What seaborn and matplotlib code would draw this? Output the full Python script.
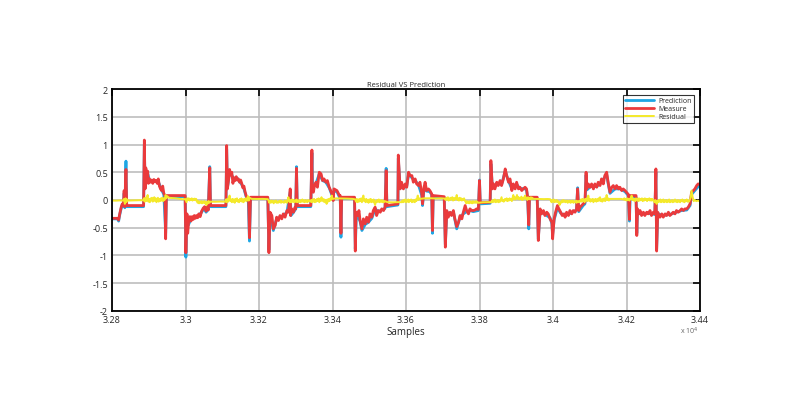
import matplotlib
matplotlib.use("Agg")
import matplotlib.pyplot as plt
import pandas as pd
import seaborn as sns

# sample position (x 10^4) and value pairs
measure_pts = [
    (3.2800, -0.33), (3.2815, -0.33), (3.2818, -0.36), (3.2821, -0.25), (3.2825, -0.13),
    (3.2828, -0.07), (3.2831, -0.10), (3.2833, 0.17), (3.2835, -0.12), (3.2838, 0.55),
    (3.2840, -0.10), (3.2886, -0.10), (3.2888, 1.08), (3.2890, 0.20), (3.2892, 0.58),
    (3.2894, 0.45), (3.2897, 0.52), (3.2899, 0.30), (3.2902, 0.38), (3.2905, 0.32),
    (3.2908, 0.36), (3.2911, 0.30), (3.2914, 0.37), (3.2917, 0.33), (3.2920, 0.35),
    (3.2923, 0.30), (3.2926, 0.38), (3.2929, 0.25), (3.2932, 0.20), (3.2935, 0.17),
    (3.2938, 0.25), (3.2941, 0.12), (3.2944, 0.08), (3.2946, -0.70), (3.2948, 0.08),
    (3.2999, 0.08), (3.3001, -0.95), (3.3004, -0.25), (3.3006, -0.60), (3.3009, -0.35),
    (3.3012, -0.30), (3.3015, -0.38), (3.3018, -0.30), (3.3021, -0.35), (3.3024, -0.28),
    (3.3027, -0.33), (3.3030, -0.28), (3.3033, -0.32), (3.3036, -0.25), (3.3040, -0.30),
    (3.3044, -0.20), (3.3048, -0.15), (3.3052, -0.12), (3.3056, -0.20), (3.3059, -0.13),
    (3.3062, -0.18), (3.3066, 0.58), (3.3068, -0.10), (3.3110, -0.10), (3.3112, 0.98),
    (3.3114, 0.20), (3.3117, 0.35), (3.3120, 0.55), (3.3123, 0.45), (3.3126, 0.50),
    (3.3129, 0.30), (3.3132, 0.40), (3.3135, 0.35), (3.3138, 0.42), (3.3141, 0.36),
    (3.3144, 0.38), (3.3147, 0.32), (3.3150, 0.36), (3.3153, 0.30), (3.3156, 0.22),
    (3.3159, 0.25), (3.3162, 0.15), (3.3165, 0.08), (3.3168, 0.02), (3.3172, -0.02),
    (3.3174, -0.68), (3.3177, 0.05), (3.3224, 0.05), (3.3227, -0.95), (3.3230, -0.22),
    (3.3235, -0.28), (3.3239, -0.52), (3.3244, -0.46), (3.3248, -0.31), (3.3253, -0.37),
    (3.3257, -0.28), (3.3262, -0.34), (3.3266, -0.25), (3.3271, -0.31), (3.3276, -0.19),
    (3.3280, -0.22), (3.3285, 0.20), (3.3286, -0.28), (3.3289, -0.16), (3.3294, -0.22),
    (3.3298, -0.13), (3.3300, -0.16), (3.3302, 0.57), (3.3304, -0.10), (3.3341, -0.10),
    (3.3344, 0.90), (3.3345, 0.20), (3.3348, 0.14), (3.3351, 0.26), (3.3355, 0.32),
    (3.3359, 0.23), (3.3364, 0.50), (3.3369, 0.47), (3.3373, 0.35), (3.3377, 0.38),
    (3.3382, 0.32), (3.3386, 0.35), (3.3391, 0.23), (3.3395, 0.17), (3.3400, 0.08),
    (3.3402, -0.01), (3.3404, 0.20), (3.3412, 0.17), (3.3419, 0.08), (3.3421, 0.08),
    (3.3423, -0.60), (3.3425, 0.05), (3.3460, 0.05), (3.3462, -0.92), (3.3464, -0.22),
    (3.3468, -0.28), (3.3472, -0.19), (3.3475, -0.37), (3.3480, -0.52), (3.3484, -0.34),
    (3.3489, -0.43), (3.3493, -0.31), (3.3498, -0.40), (3.3502, -0.25), (3.3507, -0.31),
    (3.3511, -0.19), (3.3516, -0.13), (3.3520, -0.28), (3.3525, -0.19), (3.3530, -0.22),
    (3.3534, -0.16), (3.3539, -0.19), (3.3543, -0.13), (3.3546, 0.53), (3.3548, -0.10),
    (3.3578, -0.07), (3.3579, 0.81), (3.3584, 0.20), (3.3588, 0.32), (3.3593, 0.20),
    (3.3598, 0.29), (3.3602, 0.23), (3.3607, 0.50), (3.3611, 0.44), (3.3616, 0.44),
    (3.3620, 0.32), (3.3625, 0.38), (3.3629, 0.29), (3.3634, 0.26), (3.3638, 0.32),
    (3.3643, 0.11), (3.3645, -0.07), (3.3649, 0.23), (3.3652, 0.32), (3.3656, 0.17),
    (3.3661, 0.20), (3.3665, 0.17), (3.3670, 0.11), (3.3672, -0.55), (3.3674, 0.08),
    (3.3704, 0.06), (3.3707, -0.85), (3.3711, -0.19), (3.3715, -0.31), (3.3720, -0.22),
    (3.3724, -0.28), (3.3729, -0.19), (3.3733, -0.34), (3.3738, -0.48), (3.3743, -0.40),
    (3.3747, -0.28), (3.3752, -0.34), (3.3756, -0.22), (3.3761, -0.10), (3.3765, -0.19),
    (3.3770, -0.25), (3.3774, -0.16), (3.3779, -0.19), (3.3783, -0.19), (3.3788, -0.18),
    (3.3792, -0.16), (3.3797, -0.17), (3.3800, 0.35), (3.3802, -0.05), (3.3829, -0.04),
    (3.3831, 0.71), (3.3835, 0.20), (3.3838, 0.29), (3.3842, 0.20), (3.3847, 0.32),
    (3.3851, 0.26), (3.3856, 0.35), (3.3860, 0.26), (3.3865, 0.38), (3.3870, 0.56),
    (3.3874, 0.44), (3.3879, 0.32), (3.3883, 0.38), (3.3888, 0.17), (3.3892, 0.29),
    (3.3897, 0.20), (3.3901, 0.32), (3.3906, 0.20), (3.3910, 0.23), (3.3915, 0.17),
    (3.3919, 0.20), (3.3924, 0.23), (3.3928, 0.20), (3.3931, 0.05), (3.3934, -0.45),
    (3.3936, 0.05), (3.3957, 0.05), (3.3960, -0.73), (3.3965, -0.16), (3.3969, -0.25),
    (3.3974, -0.19), (3.3978, -0.28), (3.3983, -0.22), (3.3987, -0.25), (3.3992, -0.34),
    (3.3997, -0.40), (3.3999, -0.70), (3.4003, -0.34), (3.4007, -0.22), (3.4012, -0.10),
    (3.4016, -0.16), (3.4021, -0.22), (3.4025, -0.28), (3.4030, -0.25), (3.4033, -0.31),
    (3.4037, -0.22), (3.4042, -0.28), (3.4046, -0.19), (3.4051, -0.25), (3.4055, -0.19),
    (3.4060, -0.22), (3.4064, -0.16), (3.4067, 0.20), (3.4070, -0.19), (3.4073, -0.13),
    (3.4078, -0.10), (3.4082, -0.07), (3.4087, -0.04), (3.4090, 0.50), (3.4092, 0.20),
    (3.4096, 0.29), (3.4101, 0.23), (3.4105, 0.29), (3.4110, 0.20), (3.4114, 0.29),
    (3.4119, 0.23), (3.4123, 0.32), (3.4128, 0.26), (3.4132, 0.38), (3.4137, 0.29),
    (3.4141, 0.44), (3.4146, 0.50), (3.4150, 0.32), (3.4155, 0.14), (3.4160, 0.23),
    (3.4164, 0.26), (3.4169, 0.20), (3.4173, 0.26), (3.4178, 0.20), (3.4182, 0.23),
    (3.4187, 0.17), (3.4191, 0.20), (3.4196, 0.17), (3.4200, 0.14), (3.4205, 0.10),
    (3.4208, -0.35), (3.4209, 0.08), (3.4226, 0.08), (3.4228, -0.64), (3.4230, -0.16),
    (3.4234, -0.25), (3.4237, -0.19), (3.4241, -0.28), (3.4246, -0.22), (3.4250, -0.28),
    (3.4255, -0.22), (3.4259, -0.25), (3.4264, -0.19), (3.4268, -0.28), (3.4273, -0.22),
    (3.4277, -0.25), (3.4280, 0.56), (3.4282, -0.92), (3.4285, -0.22), (3.4288, -0.28),
    (3.4291, -0.31), (3.4296, -0.25), (3.4300, -0.31), (3.4305, -0.25), (3.4309, -0.28),
    (3.4314, -0.22), (3.4318, -0.28), (3.4323, -0.25), (3.4327, -0.22), (3.4332, -0.25),
    (3.4336, -0.19), (3.4341, -0.22), (3.4346, -0.19), (3.4350, -0.16), (3.4355, -0.19),
    (3.4359, -0.16), (3.4364, -0.16), (3.4368, -0.13), (3.4373, -0.07), (3.4377, 0.14),
    (3.4382, 0.17), (3.4386, 0.20), (3.4391, 0.26), (3.4395, 0.29), (3.4400, 0.28),
]

prediction_pts = [
    (3.2800, -0.34), (3.2815, -0.34), (3.2818, -0.38), (3.2821, -0.27), (3.2825, -0.15),
    (3.2828, -0.08), (3.2831, -0.12), (3.2833, 0.12), (3.2835, -0.14), (3.2838, 0.70),
    (3.2840, -0.12), (3.2886, -0.12), (3.2888, 1.00), (3.2890, 0.22), (3.2893, 0.52),
    (3.2897, 0.48), (3.2902, 0.35), (3.2910, 0.33), (3.2920, 0.34), (3.2928, 0.30),
    (3.2935, 0.18), (3.2941, 0.10), (3.2946, -0.60), (3.2948, 0.06), (3.2999, 0.06),
    (3.3001, -1.03), (3.3004, -0.28), (3.3008, -0.45), (3.3015, -0.34), (3.3025, -0.32),
    (3.3035, -0.28), (3.3044, -0.22), (3.3050, -0.15), (3.3056, -0.22), (3.3062, -0.17),
    (3.3066, 0.60), (3.3068, -0.12), (3.3110, -0.12), (3.3112, 0.92), (3.3114, 0.22),
    (3.3120, 0.50), (3.3126, 0.45), (3.3132, 0.37), (3.3140, 0.40), (3.3147, 0.33),
    (3.3153, 0.28), (3.3159, 0.20), (3.3165, 0.06), (3.3171, -0.04), (3.3174, -0.74),
    (3.3177, 0.03), (3.3224, 0.03), (3.3227, -0.90), (3.3230, -0.25), (3.3239, -0.55),
    (3.3248, -0.34), (3.3257, -0.31), (3.3266, -0.28), (3.3276, -0.22), (3.3285, 0.15),
    (3.3287, -0.28), (3.3294, -0.22), (3.3300, -0.16), (3.3302, 0.60), (3.3304, -0.12),
    (3.3341, -0.12), (3.3344, 0.85), (3.3346, 0.20), (3.3355, 0.30), (3.3364, 0.47),
    (3.3373, 0.35), (3.3382, 0.32), (3.3391, 0.22), (3.3400, 0.06), (3.3404, 0.16),
    (3.3412, 0.15), (3.3419, 0.05), (3.3421, 0.05), (3.3423, -0.67), (3.3425, 0.03),
    (3.3460, 0.03), (3.3462, -0.88), (3.3465, -0.25), (3.3475, -0.38), (3.3480, -0.55),
    (3.3489, -0.44), (3.3498, -0.40), (3.3507, -0.33), (3.3516, -0.16), (3.3525, -0.21),
    (3.3534, -0.18), (3.3543, -0.15), (3.3546, 0.57), (3.3548, -0.12), (3.3578, -0.09),
    (3.3579, 0.75), (3.3584, 0.22), (3.3593, 0.22), (3.3602, 0.25), (3.3607, 0.47),
    (3.3616, 0.40), (3.3625, 0.35), (3.3634, 0.27), (3.3643, 0.08), (3.3645, -0.10),
    (3.3649, 0.20), (3.3656, 0.16), (3.3665, 0.15), (3.3670, 0.09), (3.3672, -0.60),
    (3.3674, 0.05), (3.3704, 0.04), (3.3707, -0.80), (3.3711, -0.22), (3.3720, -0.25),
    (3.3729, -0.22), (3.3738, -0.52), (3.3747, -0.31), (3.3756, -0.25), (3.3765, -0.21),
    (3.3774, -0.19), (3.3783, -0.21), (3.3797, -0.19), (3.3800, 0.36), (3.3802, -0.07),
    (3.3829, -0.06), (3.3831, 0.65), (3.3835, 0.22), (3.3847, 0.30), (3.3860, 0.28),
    (3.3870, 0.52), (3.3879, 0.34), (3.3888, 0.20), (3.3901, 0.28), (3.3910, 0.21),
    (3.3924, 0.20), (3.3928, 0.18), (3.3931, 0.03), (3.3934, -0.52), (3.3936, 0.03),
    (3.3957, 0.03), (3.3960, -0.70), (3.3965, -0.19), (3.3978, -0.26), (3.3992, -0.32),
    (3.3997, -0.43), (3.3999, -0.62), (3.4003, -0.36), (3.4012, -0.14), (3.4021, -0.24),
    (3.4030, -0.27), (3.4042, -0.26), (3.4055, -0.21), (3.4064, -0.18), (3.4067, 0.22),
    (3.4070, -0.21), (3.4082, -0.10), (3.4087, -0.07), (3.4090, 0.45), (3.4092, 0.18),
    (3.4105, 0.26), (3.4119, 0.24), (3.4132, 0.33), (3.4146, 0.46), (3.4150, 0.30),
    (3.4155, 0.12), (3.4169, 0.20), (3.4182, 0.20), (3.4196, 0.15), (3.4205, 0.08),
    (3.4208, -0.38), (3.4210, 0.05), (3.4226, 0.05), (3.4228, -0.60), (3.4230, -0.19),
    (3.4241, -0.26), (3.4255, -0.24), (3.4268, -0.25), (3.4277, -0.26), (3.4280, 0.50),
    (3.4282, -0.88), (3.4285, -0.24), (3.4296, -0.28), (3.4309, -0.27), (3.4323, -0.25),
    (3.4336, -0.22), (3.4350, -0.19), (3.4364, -0.18), (3.4373, -0.10), (3.4377, 0.10),
    (3.4386, 0.17), (3.4395, 0.24), (3.4400, 0.27),
]

residual_pts = [
    (3.2800, -0.01), (3.2810, -0.012), (3.2820, -0.008), (3.2830, -0.01), (3.2833, 0.02),
    (3.2835, -0.07), (3.2837, 0.03), (3.2839, -0.04), (3.2841, 0.01), (3.2844, -0.01),
    (3.2860, -0.006), (3.2875, -0.004), (3.2885, -0.005), (3.2887, 0.03), (3.2889, -0.03),
    (3.2891, 0.04), (3.2893, -0.02), (3.2895, 0.05), (3.2897, 0.09), (3.2899, -0.03),
    (3.2901, 0.02), (3.2903, -0.04), (3.2905, 0.03), (3.2907, -0.01), (3.2909, 0.04),
    (3.2911, -0.03), (3.2913, 0.02), (3.2915, 0.05), (3.2917, -0.02), (3.2919, 0.03),
    (3.2921, -0.04), (3.2923, 0.01), (3.2925, 0.04), (3.2927, -0.03), (3.2929, 0.02),
    (3.2931, -0.02), (3.2933, 0.03), (3.2935, -0.01), (3.2937, 0.04), (3.2939, -0.02),
    (3.2941, 0.03), (3.2943, 0.0), (3.2946, 0.09), (3.2948, 0.03), (3.2950, 0.07),
    (3.2955, 0.04), (3.2965, 0.035), (3.2975, 0.03), (3.2985, 0.02), (3.2995, 0.01),
    (3.2999, 0.02), (3.3001, -0.01), (3.3003, -0.04), (3.3005, 0.03), (3.3007, 0.0),
    (3.3009, 0.03), (3.3011, -0.01), (3.3013, 0.02), (3.3015, 0.0), (3.3017, 0.03),
    (3.3019, -0.01), (3.3021, 0.02), (3.3023, 0.0), (3.3025, 0.025), (3.3027, -0.005),
    (3.3029, 0.02), (3.3031, -0.02), (3.3033, -0.05), (3.3035, -0.02), (3.3037, -0.06),
    (3.3039, -0.03), (3.3041, -0.05), (3.3043, -0.02), (3.3045, -0.06), (3.3047, -0.03),
    (3.3049, -0.05), (3.3051, -0.02), (3.3053, -0.06), (3.3055, -0.04), (3.3057, -0.09),
    (3.3059, -0.03), (3.3061, -0.06), (3.3063, -0.02), (3.3065, -0.05), (3.3067, -0.03),
    (3.3080, -0.032), (3.3095, -0.028), (3.3108, -0.03), (3.3110, 0.01), (3.3112, -0.04),
    (3.3114, 0.02), (3.3116, -0.03), (3.3118, 0.03), (3.3120, 0.08), (3.3122, -0.02),
    (3.3124, 0.01), (3.3126, -0.04), (3.3128, 0.02), (3.3130, -0.03), (3.3132, 0.01),
    (3.3134, -0.05), (3.3136, 0.02), (3.3138, -0.02), (3.3140, 0.03), (3.3142, -0.03),
    (3.3144, 0.0), (3.3146, -0.04), (3.3148, 0.02), (3.3150, -0.02), (3.3152, 0.03),
    (3.3154, -0.03), (3.3156, 0.01), (3.3158, -0.04), (3.3160, 0.02), (3.3162, -0.01),
    (3.3164, 0.03), (3.3166, -0.02), (3.3168, 0.02), (3.3170, 0.07), (3.3172, -0.01),
    (3.3174, 0.04), (3.3180, 0.02), (3.3195, 0.018), (3.3210, 0.02), (3.3224, 0.015),
    (3.3226, -0.01), (3.3228, -0.05), (3.3230, -0.02), (3.3232, -0.05), (3.3234, -0.01),
    (3.3236, -0.04), (3.3238, -0.02), (3.3240, -0.06), (3.3242, -0.02), (3.3244, -0.04),
    (3.3246, -0.01), (3.3248, -0.05), (3.3250, -0.03), (3.3252, -0.05), (3.3254, -0.02),
    (3.3256, -0.04), (3.3258, -0.01), (3.3260, -0.05), (3.3262, -0.02), (3.3264, -0.04),
    (3.3266, -0.03), (3.3268, -0.05), (3.3270, -0.01), (3.3272, -0.04), (3.3274, -0.02),
    (3.3276, -0.05), (3.3278, 0.0), (3.3280, 0.05), (3.3282, -0.02), (3.3284, -0.04),
    (3.3286, 0.0), (3.3288, -0.04), (3.3290, 0.01), (3.3292, -0.03), (3.3294, 0.0),
    (3.3296, -0.04), (3.3298, -0.01), (3.3300, -0.03), (3.3302, 0.01), (3.3304, -0.04),
    (3.3306, -0.01), (3.3308, -0.03), (3.3310, 0.0), (3.3312, -0.04), (3.3314, -0.01),
    (3.3316, -0.03), (3.3318, 0.01), (3.3320, -0.03), (3.3322, -0.01), (3.3324, -0.04),
    (3.3326, 0.0), (3.3328, -0.03), (3.3330, -0.01), (3.3332, -0.04), (3.3334, 0.0),
    (3.3336, -0.02), (3.3338, -0.01), (3.3340, -0.03), (3.3342, 0.0), (3.3344, -0.04),
    (3.3346, 0.01), (3.3348, -0.03), (3.3350, 0.02), (3.3352, -0.04), (3.3354, 0.0),
    (3.3356, -0.03), (3.3358, 0.02), (3.3360, -0.02), (3.3362, 0.03), (3.3364, -0.04),
    (3.3366, 0.01), (3.3368, -0.02), (3.3370, 0.05), (3.3372, -0.01), (3.3374, 0.02),
    (3.3376, -0.03), (3.3378, 0.01), (3.3380, -0.04), (3.3382, 0.0), (3.3384, -0.07),
    (3.3386, 0.01), (3.3388, -0.03), (3.3390, 0.02), (3.3392, -0.02), (3.3394, 0.03),
    (3.3396, 0.0), (3.3398, 0.08), (3.3400, 0.02), (3.3410, 0.03), (3.3425, 0.028),
    (3.3440, 0.025), (3.3455, 0.02), (3.3462, 0.01), (3.3464, -0.03), (3.3466, 0.02),
    (3.3468, -0.04), (3.3470, 0.01), (3.3472, -0.03), (3.3474, 0.02), (3.3476, -0.02),
    (3.3478, 0.03), (3.3480, -0.04), (3.3482, 0.02), (3.3484, 0.08), (3.3486, -0.02),
    (3.3488, 0.01), (3.3490, -0.04), (3.3492, 0.02), (3.3494, -0.03), (3.3496, 0.0),
    (3.3498, -0.05), (3.3500, 0.01), (3.3502, -0.03), (3.3504, 0.02), (3.3506, -0.04),
    (3.3508, 0.0), (3.3510, -0.03), (3.3512, 0.01), (3.3514, -0.05), (3.3516, -0.09),
    (3.3518, -0.02), (3.3520, -0.04), (3.3522, 0.0), (3.3524, -0.03), (3.3526, 0.01),
    (3.3528, -0.04), (3.3530, -0.01), (3.3532, -0.03), (3.3534, 0.0), (3.3536, -0.04),
    (3.3538, -0.02), (3.3540, -0.04), (3.3542, -0.02), (3.3550, -0.04), (3.3565, -0.042),
    (3.3580, -0.038), (3.3588, -0.04), (3.3590, -0.01), (3.3592, -0.04), (3.3594, 0.0),
    (3.3596, -0.03), (3.3598, 0.01), (3.3600, -0.04), (3.3602, -0.01), (3.3604, -0.03),
    (3.3606, 0.01), (3.3608, -0.04), (3.3610, 0.0), (3.3612, -0.02), (3.3614, 0.01),
    (3.3616, -0.04), (3.3618, -0.01), (3.3620, -0.03), (3.3622, 0.0), (3.3624, -0.04),
    (3.3626, 0.01), (3.3628, -0.02), (3.3630, 0.02), (3.3632, 0.08), (3.3634, 0.0),
    (3.3636, 0.03), (3.3638, 0.02), (3.3650, 0.03), (3.3665, 0.032), (3.3680, 0.028),
    (3.3695, 0.03), (3.3705, 0.026), (3.3708, 0.0), (3.3710, 0.04), (3.3712, 0.01),
    (3.3714, 0.05), (3.3716, -0.01), (3.3718, 0.03), (3.3720, 0.0), (3.3722, 0.04),
    (3.3724, 0.01), (3.3726, 0.05), (3.3728, -0.01), (3.3730, 0.03), (3.3732, 0.0),
    (3.3734, 0.04), (3.3736, 0.02), (3.3738, 0.09), (3.3740, 0.0), (3.3742, 0.03),
    (3.3744, -0.01), (3.3746, 0.04), (3.3748, 0.0), (3.3750, 0.03), (3.3752, -0.01),
    (3.3754, 0.02), (3.3756, 0.0), (3.3758, 0.03), (3.3760, -0.01), (3.3762, -0.03),
    (3.3764, -0.06), (3.3766, -0.02), (3.3768, -0.05), (3.3770, -0.03), (3.3772, -0.06),
    (3.3774, -0.02), (3.3776, -0.05), (3.3778, -0.03), (3.3780, -0.06), (3.3782, -0.02),
    (3.3784, -0.05), (3.3786, -0.03), (3.3788, -0.05), (3.3790, -0.02), (3.3792, -0.05),
    (3.3794, -0.03), (3.3796, -0.05), (3.3810, -0.042), (3.3825, -0.038), (3.3832, -0.04),
    (3.3834, -0.01), (3.3836, -0.04), (3.3838, 0.0), (3.3840, -0.03), (3.3842, 0.01),
    (3.3844, -0.04), (3.3846, -0.01), (3.3848, -0.03), (3.3850, 0.0), (3.3852, -0.04),
    (3.3854, -0.01), (3.3856, -0.03), (3.3858, 0.01), (3.3860, 0.05), (3.3862, -0.02),
    (3.3864, 0.0), (3.3866, -0.03), (3.3868, 0.01), (3.3870, 0.02), (3.3872, -0.01),
    (3.3874, 0.03), (3.3876, -0.02), (3.3878, 0.02), (3.3880, -0.01), (3.3882, 0.03),
    (3.3884, 0.0), (3.3886, 0.02), (3.3888, -0.02), (3.3890, 0.04), (3.3892, 0.09),
    (3.3894, 0.01), (3.3896, 0.05), (3.3898, 0.01), (3.3900, 0.04), (3.3902, 0.09),
    (3.3904, 0.02), (3.3906, 0.05), (3.3908, 0.01), (3.3910, 0.04), (3.3912, 0.02),
    (3.3914, 0.06), (3.3916, 0.0), (3.3918, 0.04), (3.3920, 0.01), (3.3922, 0.05),
    (3.3924, 0.08), (3.3926, 0.02), (3.3928, 0.04), (3.3930, 0.0), (3.3932, 0.05),
    (3.3934, 0.02), (3.3936, 0.04), (3.3938, 0.01), (3.3940, 0.05), (3.3942, 0.02),
    (3.3944, 0.04), (3.3946, 0.02), (3.3955, 0.02), (3.3965, 0.018), (3.3975, 0.016),
    (3.3985, 0.018), (3.3992, 0.015), (3.3994, -0.01), (3.3996, -0.04), (3.3998, 0.0),
    (3.4000, -0.03), (3.4002, 0.01), (3.4004, -0.04), (3.4006, -0.01), (3.4008, -0.03),
    (3.4010, 0.0), (3.4012, -0.04), (3.4014, -0.02), (3.4016, -0.05), (3.4018, -0.09),
    (3.4020, -0.03), (3.4022, -0.05), (3.4024, -0.01), (3.4026, -0.04), (3.4028, 0.0),
    (3.4030, -0.03), (3.4032, -0.01), (3.4034, -0.04), (3.4036, -0.02), (3.4038, -0.01),
    (3.4040, -0.05), (3.4042, -0.02), (3.4044, -0.04), (3.4046, -0.01), (3.4048, -0.05),
    (3.4050, -0.02), (3.4052, -0.04), (3.4054, -0.01), (3.4056, -0.05), (3.4058, -0.03),
    (3.4060, -0.04), (3.4062, -0.01), (3.4064, -0.05), (3.4066, -0.02), (3.4068, -0.04),
    (3.4070, -0.02), (3.4072, -0.04), (3.4074, -0.02), (3.4076, 0.01), (3.4078, -0.03),
    (3.4080, 0.02), (3.4082, -0.02), (3.4084, 0.01), (3.4086, -0.04), (3.4088, 0.02),
    (3.4090, -0.01), (3.4092, 0.03), (3.4094, -0.02), (3.4096, 0.08), (3.4098, -0.01),
    (3.4100, 0.02), (3.4102, -0.03), (3.4104, 0.01), (3.4106, -0.02), (3.4108, 0.02),
    (3.4110, -0.04), (3.4112, 0.01), (3.4114, -0.02), (3.4116, 0.02), (3.4118, -0.03),
    (3.4120, 0.01), (3.4122, -0.02), (3.4124, 0.03), (3.4126, -0.01), (3.4128, 0.05),
    (3.4130, -0.02), (3.4132, 0.01), (3.4134, -0.03), (3.4136, 0.02), (3.4138, -0.01),
    (3.4140, 0.03), (3.4142, -0.02), (3.4144, 0.02), (3.4146, 0.09), (3.4148, 0.0),
    (3.4150, 0.03), (3.4152, -0.01), (3.4154, 0.02), (3.4165, 0.02), (3.4175, 0.018),
    (3.4185, 0.02), (3.4192, 0.01), (3.4194, 0.03), (3.4196, 0.0), (3.4198, 0.02),
    (3.4200, -0.01), (3.4202, 0.03), (3.4204, 0.0), (3.4206, 0.02), (3.4208, -0.01),
    (3.4210, 0.02), (3.4212, 0.04), (3.4214, 0.08), (3.4216, 0.0), (3.4218, 0.03),
    (3.4220, -0.01), (3.4222, 0.02), (3.4224, -0.02), (3.4226, 0.03), (3.4228, 0.0),
    (3.4230, 0.02), (3.4232, -0.02), (3.4234, 0.03), (3.4236, -0.01), (3.4238, 0.02),
    (3.4240, 0.0), (3.4242, 0.03), (3.4244, -0.02), (3.4246, 0.02), (3.4248, -0.01),
    (3.4250, 0.03), (3.4252, 0.0), (3.4254, 0.02), (3.4256, -0.02), (3.4258, 0.02),
    (3.4260, 0.0), (3.4262, 0.03), (3.4264, -0.01), (3.4266, 0.02), (3.4268, -0.01),
    (3.4270, 0.02), (3.4272, 0.0), (3.4274, -0.02), (3.4276, -0.04), (3.4278, 0.0),
    (3.4280, -0.03), (3.4282, -0.07), (3.4284, -0.01), (3.4286, -0.04), (3.4288, 0.0),
    (3.4290, -0.03), (3.4292, 0.01), (3.4294, -0.04), (3.4296, -0.01), (3.4298, -0.03),
    (3.4300, 0.01), (3.4302, -0.04), (3.4304, -0.01), (3.4306, -0.03), (3.4308, 0.0),
    (3.4310, -0.04), (3.4312, -0.01), (3.4314, -0.03), (3.4316, 0.01), (3.4318, -0.04),
    (3.4320, -0.02), (3.4322, -0.03), (3.4324, 0.0), (3.4326, -0.04), (3.4328, -0.01),
    (3.4330, -0.03), (3.4332, 0.01), (3.4334, -0.03), (3.4336, -0.01), (3.4338, -0.04),
    (3.4340, 0.0), (3.4342, -0.03), (3.4344, -0.01), (3.4346, -0.04), (3.4348, 0.0),
    (3.4350, -0.02), (3.4352, 0.01), (3.4354, -0.03), (3.4356, -0.01), (3.4358, -0.04),
    (3.4360, 0.0), (3.4362, -0.02), (3.4364, 0.01), (3.4366, -0.03), (3.4368, -0.01),
    (3.4370, -0.03), (3.4372, 0.0), (3.4374, 0.03), (3.4377, 0.17), (3.4380, 0.05),
    (3.4383, -0.02), (3.4386, 0.0), (3.4390, -0.02), (3.4394, -0.01), (3.4398, -0.02),
    (3.4400, -0.01),
]

x_ticks = [3.28, 3.30, 3.32, 3.34, 3.36, 3.38, 3.40, 3.42, 3.44]
x_tick_labels = ['3.28', '3.3', '3.32', '3.34', '3.36', '3.38', '3.4', '3.42', '3.44']
y_ticks = [-2, -1.5, -1, -0.5, 0, 0.5, 1, 1.5, 2]
y_tick_labels = ['-2', '-1.5', '-1', '-0.5', '0', '0.5', '1', '1.5', '2']

series = [
    ('Prediction', prediction_pts, '#1da6e4', 2.0),
    ('Measure', measure_pts, '#ea3a3c', 2.0),
    ('Residual', residual_pts, '#f4e92a', 1.4),
]

sns.set_style('white')
plt.rcParams['font.family'] = ['Open Sans', 'DejaVu Sans']

fig = plt.figure(figsize=(8, 4.14), dpi=100)
ax = fig.add_axes([0.14, 0.2464, 0.735, 0.5362])

for name, pts, color, lw in series:
    df = pd.DataFrame(pts, columns=['sample', 'value'])
    sns.lineplot(data=df, x='sample', y='value', ax=ax, color=color, linewidth=lw,
                 estimator=None, sort=False, label=name)

ax.set_xlim(3.28, 3.44)
ax.set_ylim(-2, 2)
ax.set_xticks(x_ticks)
ax.set_xticklabels(x_tick_labels)
ax.set_yticks(y_ticks)
ax.set_yticklabels(y_tick_labels)
ax.grid(True, color='#bdbdbd', linewidth=1.2)
ax.set_axisbelow(True)
ax.tick_params(direction='in', length=5, width=1.2, color='black', labelsize=6.5,
               top=True, right=True, pad=3)
for s in ax.spines.values():
    s.set_visible(True)
    s.set_color('black')
    s.set_linewidth(1.3)

ax.set_title('Residual VS Prediction', fontsize=5.5, pad=2)
ax.set_xlabel('Samples', fontsize=7, labelpad=1)
ax.set_ylabel('')
# MATLAB style exponent note under the last tick label
ax.text(0.966, -0.062, 'x 10$^{4}$', transform=ax.transAxes, fontsize=5,
        color='#666666', va='top', ha='left')

leg = ax.legend(loc='upper right', fontsize=5, frameon=True, fancybox=False,
                borderaxespad=0.9, handlelength=4.2, labelspacing=0.15,
                borderpad=0.3, handletextpad=0.6)
leg.get_frame().set_edgecolor('black')
leg.get_frame().set_linewidth(0.8)

fig.savefig('out.png', dpi=100)
